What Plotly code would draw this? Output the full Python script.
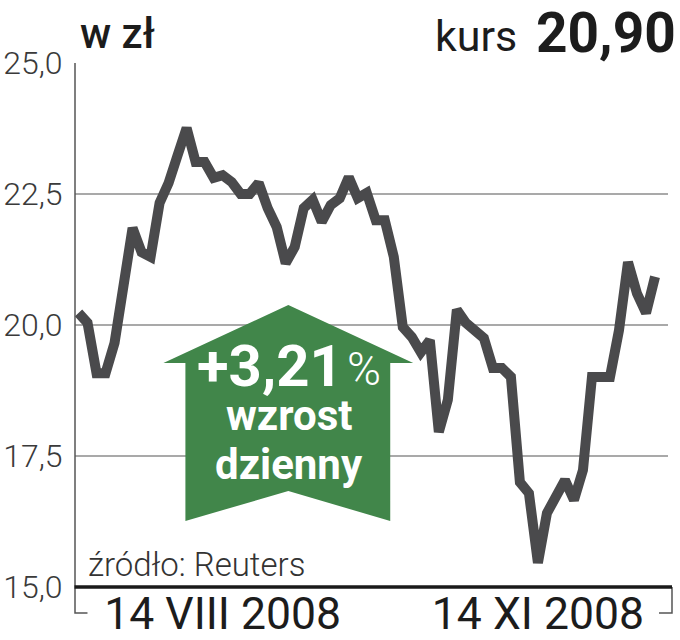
import plotly.graph_objects as go

# sessions from 14 VIII 2008
kurs = [20.23, 20.04, 19.08, 19.08, 19.66, 20.80, 21.85, 21.39, 21.30, 22.33,
        22.71, 23.24, 23.76, 23.11, 23.11, 22.81, 22.86, 22.73, 22.50, 22.50,
        22.71, 22.23, 21.87, 21.18, 21.49, 22.23, 22.39, 21.97, 22.29, 22.42,
        22.82, 22.42, 22.52, 22.00, 22.00, 21.30, 19.96, 19.77, 19.48, 19.71,
        17.96, 18.57, 20.29, 20.04, 19.90, 19.75, 19.18, 19.18, 19.01, 17.00,
        16.79, 15.46, 16.41, 16.76, 17.04, 16.66, 17.23, 19.01, 19.01, 19.01,
        19.90, 21.20, 20.60, 20.23, 20.92]
sesje = list(range(len(kurs)))

y_ticks = [15, 17.5, 20, 22.5, 25]
y_labels = ["15,0", "17,5", "20,0", "22,5", "25,0"]
x_ticks = [16, 51]
x_labels = ["14 VIII 2008", "14 XI 2008"]

W, H = 680, 640
L, R, T, B = 74.5, 668, 63, 587
DARK = "#4a4a4c"
GREEN = "#41864a"
GRID = "#a9a9a9"
FONT = "Roboto"
LIGHT = "Roboto Light"


# page pixels to paper coordinates (paper spans the plot area)
def px(x):
    return (x - L) / (R - L)


def py(y):
    return (B - y) / (B - T)


def bracket(points, color="#555555", width=1.5):
    path = "M " + " L ".join(f"{px(x)},{py(y)}" for x, y in points)
    return dict(type="path", path=path, xref="paper", yref="paper",
                line=dict(color=color, width=width), layer="above")


arrow = [(288, 305), (413, 363), (390, 363), (390, 521), (288, 491),
         (185, 521), (185, 363), (163, 363)]
arrow_path = "M " + " L ".join(f"{px(x)},{py(y)}" for x, y in arrow) + " Z"

fig = go.Figure()
fig.add_trace(go.Scatter(
    x=sesje, y=kurs, mode="lines",
    line=dict(color=DARK, width=10, shape="linear"),
    hoverinfo="skip", showlegend=False, cliponaxis=False,
))

fig.update_layout(
    width=W, height=H,
    margin=dict(l=L, r=W - R, t=T, b=H - B, pad=0),
    paper_bgcolor="white", plot_bgcolor="white",
    showlegend=False,
    xaxis=dict(
        range=[-0.39, 65.44], tickmode="array", tickvals=x_ticks, ticktext=x_labels,
        tickfont=dict(family=FONT, size=44.5, color="#1c1c1c"),
        showgrid=False, zeroline=False, showline=False, ticks="",
        ticklabelstandoff=-4, automargin=False,
    ),
    yaxis=dict(
        range=[15, 25], tickmode="array", tickvals=y_ticks, ticktext=y_labels,
        tickfont=dict(family=LIGHT, size=32, color="#3a3a3a"),
        showgrid=True, gridcolor=GRID, gridwidth=1.5, zeroline=False, showline=False,
        ticks="outside", ticklen=5, tickcolor="rgba(0,0,0,0)", automargin=False,
    ),
    shapes=[
        # frame: left rule with its bracket, black base, right bracket
        bracket([(74.5, 63), (74.5, 613), (87, 613)]),
        bracket([(659, 613), (672, 613), (672, 587)]),
        bracket([(74, 587), (672, 587)], color="#1a1a1a", width=3.5),
        dict(type="path", path=arrow_path, xref="paper", yref="paper",
             fillcolor=GREEN, line=dict(width=0), layer="above"),
    ],
)


def text(x, y, s, size, color="#1c1c1c", family=FONT, xanchor="left", weight=None):
    fig.add_annotation(
        x=px(x), y=py(y), xref="paper", yref="paper", text=s, showarrow=False,
        xanchor=xanchor, yanchor="middle", align="left",
        font=dict(family=family, size=size, color=color, weight=weight),
        borderpad=0, borderwidth=0,
    )


text(80, 33, "w zł", 42, weight=500)
text(435, 36, "kurs", 43)
text(676, 33, "20,90", 55, xanchor="right", weight=700)
text(197, 366, "+3,21", 58, color="white", weight=700)
text(381, 369, "%", 46, color="white", xanchor="right", family=LIGHT)
text(289, 415, "wzrost", 42, color="white", xanchor="center", weight=700)
text(289, 464, "dzienny", 42, color="white", xanchor="center", weight=700)
text(88, 564, "źródło: Reuters", 33, color="#333333", family=LIGHT)

fig.write_html("out.html", config=dict(displayModeBar=False),
               post_script="document.body.style.margin='0';")
